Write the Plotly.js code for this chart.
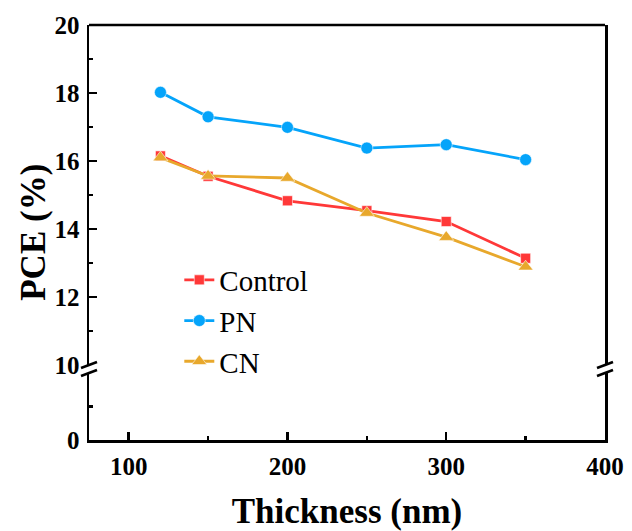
<!DOCTYPE html>
<html>
<head>
<meta charset="utf-8">
<script src="https://cdn.plot.ly/plotly-3.0.1.min.js"></script>
<style>
  html, body { margin: 0; padding: 0; background: #fff; }
  #chart { width: 632px; height: 531px; }
</style>
</head>
<body>
<div id="chart"></div>
<script>
// Film thickness (nm)
const thickness = [120, 150, 200, 250, 300, 350];

// PCE (%) for each device type
const pceControl = [16.15, 15.55, 14.83, 14.54, 14.22, 13.14];
const pcePN      = [18.02, 17.30, 16.99, 16.38, 16.48, 16.04];
const pceCN      = [16.10, 15.56, 15.50, 14.47, 13.76, 12.89];

const seriesNames = ['Control', 'PN', 'CN'];
const xTicks = [100, 200, 300, 400];
const yUpperTicks = [10, 12, 14, 16, 18, 20];

const serif = '"Liberation Serif", "Times New Roman", serif';
const black = '#000';

// Upper and lower parts of the broken y axis (fractions of plot height)
const lowerTop = 0.1614;
const upperBottom = 0.1807;

function series(name, y, color, symbol, size) {
  return {
    type: 'scatter', mode: 'lines+markers', name: name,
    x: thickness, y: y, xaxis: 'x', yaxis: 'y2',
    line: { color: color, width: 2.8 },
    marker: { color: color, symbol: symbol, size: size,
              line: { color: 'rgba(255,255,255,0.55)', width: 1 } }
  };
}

const data = [
  // empty trace so the lower (0–10) segment of the axis gets its own subplot
  { type: 'scatter', mode: 'markers', x: [], y: [], xaxis: 'x', yaxis: 'y',
    showlegend: false, hoverinfo: 'skip' },
  series(seriesNames[0], pceControl, '#FF3838', 'square', 10),
  series(seriesNames[1], pcePN, '#05A4FA', 'circle', 12),
  series(seriesNames[2], pceCN, '#E8A82C', 'triangle-up', 13)
];

const tickFont = { family: serif, size: 25, color: black, weight: 'bold' };
const titleFont = { family: serif, size: 35, color: black, weight: 'bold' };

// Small slanted marks drawn where the y axis is broken
function breakMark(xPaper, yPaper) {
  return {
    type: 'line', xref: 'paper', yref: 'paper',
    xsizemode: 'pixel', ysizemode: 'pixel',
    xanchor: xPaper, yanchor: yPaper,
    x0: -8, x1: 8, y0: -3, y1: 3,
    line: { color: black, width: 2.5 }
  };
}

const layout = {
  width: 632, height: 531,
  margin: { l: 89, r: 27, t: 25, b: 91 },
  font: { family: serif, color: black },
  paper_bgcolor: '#fff', plot_bgcolor: '#fff',
  showlegend: true,
  legend: {
    x: 0.175, y: 0.447, xanchor: 'left', yanchor: 'top',
    bgcolor: 'rgba(0,0,0,0)', tracegroupgap: 0,
    font: { family: serif, size: 29, color: black }
  },
  xaxis: {
    range: [75, 400], anchor: 'y',
    tickvals: xTicks, ticks: 'inside', ticklen: 8, tickwidth: 2.5, tickcolor: black,
    minor: { dtick: 50, ticks: 'inside', ticklen: 4, tickwidth: 2.5, tickcolor: black },
    showline: true, linecolor: black, linewidth: 2.5,
    showgrid: false, zeroline: false,
    tickfont: tickFont, ticklabelstandoff: 2,
    title: { text: 'Thickness (nm)', standoff: 20, font: titleFont }
  },
  yaxis: {
    domain: [0, lowerTop], range: [0, 10], anchor: 'x',
    tickvals: [0], ticktext: ['0'],
    ticks: 'inside', ticklen: 8, tickwidth: 2.5, tickcolor: black,
    minor: { tickvals: [5], ticks: 'inside', ticklen: 4, tickwidth: 2.5, tickcolor: black },
    showline: true, mirror: true, linecolor: black, linewidth: 2.5,
    showgrid: false, zeroline: false,
    tickfont: tickFont, ticklabelstandoff: 2
  },
  yaxis2: {
    domain: [upperBottom, 1], range: [10, 20], anchor: 'x',
    tickvals: yUpperTicks,
    ticks: 'inside', ticklen: 8, tickwidth: 2.5, tickcolor: black,
    minor: { dtick: 1, ticks: 'inside', ticklen: 4, tickwidth: 2.5, tickcolor: black },
    showline: true, mirror: true, linecolor: black, linewidth: 2.5,
    showgrid: false, zeroline: false,
    tickfont: tickFont, ticklabelstandoff: 2
  },
  // y title spans both axis segments, so it is centred on the whole plot height
  annotations: [
    { text: 'PCE (%)', xref: 'paper', yref: 'paper', x: -0.108, y: 0.5,
      xanchor: 'center', yanchor: 'middle', textangle: -90, showarrow: false,
      font: titleFont }
  ],
  shapes: [
    { type: 'line', xref: 'paper', yref: 'paper', x0: 0, x1: 1, y0: 1, y1: 1,
      line: { color: black, width: 2.5 } },
    breakMark(0, lowerTop), breakMark(0, upperBottom),
    breakMark(1, lowerTop), breakMark(1, upperBottom)
  ]
};

Plotly.newPlot('chart', data, layout, { displayModeBar: false, staticPlot: true });
</script>
</body>
</html>
